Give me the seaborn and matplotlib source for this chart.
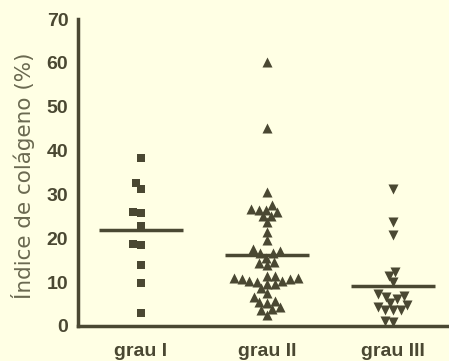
import numpy as np
import pandas as pd
import matplotlib
matplotlib.use("Agg")
import matplotlib.pyplot as plt
from matplotlib.collections import PathCollection
import seaborn as sns

# valores (índice de colágeno, %)
grupos = ["grau I", "grau II", "grau III"]
grau_1 = [38.3, 32.7, 31.3, 25.7, 26.0, 22.8, 18.7, 18.5, 13.9, 9.7, 3.0]
grau_2 = [60.3, 45.1, 30.5, 26.5, 26.1, 27.6, 26.6, 26.5, 25.0, 25.1, 23.6,
          21.5, 19.6, 16.6, 17.2, 16.6, 17.5, 15.6, 14.7, 13.9, 14.3, 11.4,
          10.7, 9.6, 10.3, 8.6, 10.9, 10.9, 10.3, 9.6, 11.4, 10.7, 10.1,
          7.5, 5.8, 5.5, 6.7, 5.3, 3.8, 3.7, 4.3, 2.5]
grau_3 = [31.2, 23.6, 20.8, 12.4, 11.5, 10.1, 6.8, 6.1, 4.8, 5.3, 4.4, 6.7,
          7.3, 3.7, 3.7, 3.7, 1.0, 1.1]
y_ticks = [0, 10, 20, 30, 40, 50, 60, 70]

valores = [grau_1, grau_2, grau_3]
marcadores = ["s", "^", "v"]
tam_final = [33, 52, 52]   # área do marcador (pt^2) depois do enxame

fundo = "#FFFFE4"
tinta = "#4A4832"

sns.set_style("white")
plt.rcParams["font.family"] = ["Liberation Sans", "DejaVu Sans"]

fig = plt.figure(figsize=(4.49, 3.61), dpi=100, facecolor=fundo)
ax = fig.add_axes([78 / 449, 35 / 361, 371 / 449, 307 / 361])
ax.set_facecolor(fundo)

enxames = []
for i, (g, vals) in enumerate(zip(grupos, valores)):
    antes = list(ax.collections)
    sns.swarmplot(x=[g] * len(vals), y=vals, order=grupos, marker=marcadores[i],
                  color=tinta, size=5.4, linewidth=0, ax=ax, warn_thresh=1)
    novos = [c for c in ax.collections if c not in antes and isinstance(c, PathCollection)]
    enxames.append(novos)
    ax.hlines(np.mean(vals), i - 0.33, i + 0.33, color=tinta, lw=2.5, zorder=5)

ax.set_xlim(-0.5, 2.444)
ax.set_ylim(0, 70)
ax.set_yticks(y_ticks)
ax.set_yticklabels([str(t) for t in y_ticks], fontsize=14, fontweight="bold", color=tinta)
ax.set_xticks(range(len(grupos)))
ax.set_xticklabels(grupos, fontsize=14, fontweight="bold", color=tinta)

sns.despine(ax=ax)
for lado in ["left", "bottom"]:
    ax.spines[lado].set_color(tinta)
    ax.spines[lado].set_linewidth(2.5)
ax.tick_params(axis="y", length=6, width=2.5, color=tinta, pad=1)
ax.tick_params(axis="x", length=0, pad=12)

ax.set_ylabel("Índice de colágeno (%)", fontsize=15.5, color="#6A6950",
              family="DejaVu Sans")
ax.yaxis.set_label_coords((35 - 78) / 371, 0.49)
ax.set_xlabel("")

# fixa as posições do enxame e aumenta os marcadores (sobrepostos como no original)
fig.canvas.draw()
for colls, s in zip(enxames, tam_final):
    for coll in colls:
        coll.__dict__.pop("draw", None)
        coll.set_sizes([s])

fig.savefig("out.png", dpi=100, facecolor=fundo)
